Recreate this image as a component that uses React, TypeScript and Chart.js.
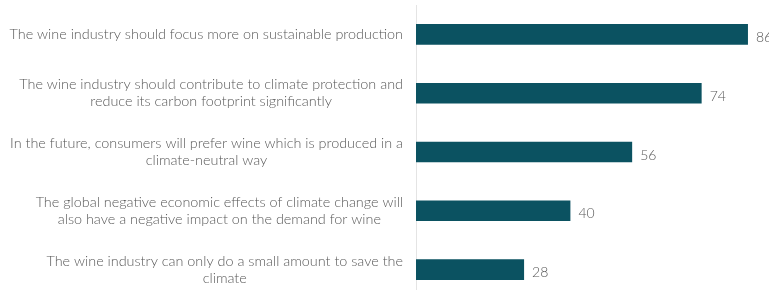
import React, { useEffect, useRef } from "react";
import { Chart, registerables } from "chart.js";

Chart.register(...registerables);

const categories: string[][] = [
  ["The wine industry should focus more on sustainable production"],
  ["The wine industry should contribute to climate protection and", "reduce its carbon footprint significantly"],
  ["In the future, consumers will prefer wine which is produced in a", "climate-neutral way"],
  ["The global negative economic effects of climate change will", "also have a negative impact on the demand for wine"],
  ["The wine industry can only do a small amount to save the", "climate"],
];
const values: number[] = [86, 74, 56, 40, 28];

const BAR_COLOR = "#0b5261";
const TEXT_COLOR = "#595959";
const FONT = "Lato, 'Open Sans', sans-serif";

const labelPlugin = {
  id: "customLabels",
  afterDraw(chart: any) {
    const ctx = chart.ctx as CanvasRenderingContext2D;
    const yScale = chart.scales.y;
    const meta = chart.getDatasetMeta(0);
    ctx.save();
    ctx.fillStyle = TEXT_COLOR;
    // category labels: block right-aligned, lines centered within the block
    ctx.font = `300 14.4px ${FONT}`;
    ctx.textBaseline = "middle";
    const rightEdge = chart.chartArea.left - 13;
    const lineH = 17;
    categories.forEach((lines, i) => {
      const cy = yScale.getPixelForValue(i);
      const widths = lines.map((l) => ctx.measureText(l).width);
      const maxW = Math.max(...widths);
      const blockCenter = rightEdge - maxW / 2;
      ctx.textAlign = "center";
      lines.forEach((l, j) => {
        const y = cy + (j - (lines.length - 1) / 2) * lineH;
        ctx.fillText(l, blockCenter, y);
      });
    });
    // value labels
    ctx.font = `300 14px ${FONT}`;
    ctx.textAlign = "left";
    meta.data.forEach((bar: any, i: number) => {
      ctx.fillText(String(values[i]), bar.x + 8, bar.y + 3);
    });
    ctx.restore();
  },
};

export default function App() {
  const ref = useRef<HTMLCanvasElement | null>(null);
  useEffect(() => {
    if (!ref.current) return;
    const chart = new Chart(ref.current, {
      type: "bar",
      data: {
        labels: categories.map((c) => c.join(" ")),
        datasets: [
          {
            data: values,
            backgroundColor: BAR_COLOR,
            barPercentage: 0.7,
            categoryPercentage: 0.5,
          },
        ],
      },
      options: {
        indexAxis: "y",
        animation: false,
        responsive: false,
        maintainAspectRatio: false,
        layout: { padding: { top: 5, bottom: 1, left: 0, right: 8 } },
        plugins: { legend: { display: false }, tooltip: { enabled: false } },
        scales: {
          x: {
            display: false,
            min: 0,
            max: 100,
          },
          y: {
            ticks: { display: false },
            grid: { display: false },
            border: { display: true, color: "#e4e4e4", width: 1 },
            afterFit: (s: any) => {
              s.width = 416;
            },
          },
        },
      },
      plugins: [labelPlugin],
    });
    return () => chart.destroy();
  }, []);
  return (
    <div
      style={{
        position: "fixed",
        left: 0,
        top: 0,
        width: 769,
        height: 290,
        overflow: "hidden",
        background: "#fff",
      }}
    >
      <canvas ref={ref} width={810} height={300} style={{ width: 810, height: 300, display: "block" }} />
    </div>
  );
}
